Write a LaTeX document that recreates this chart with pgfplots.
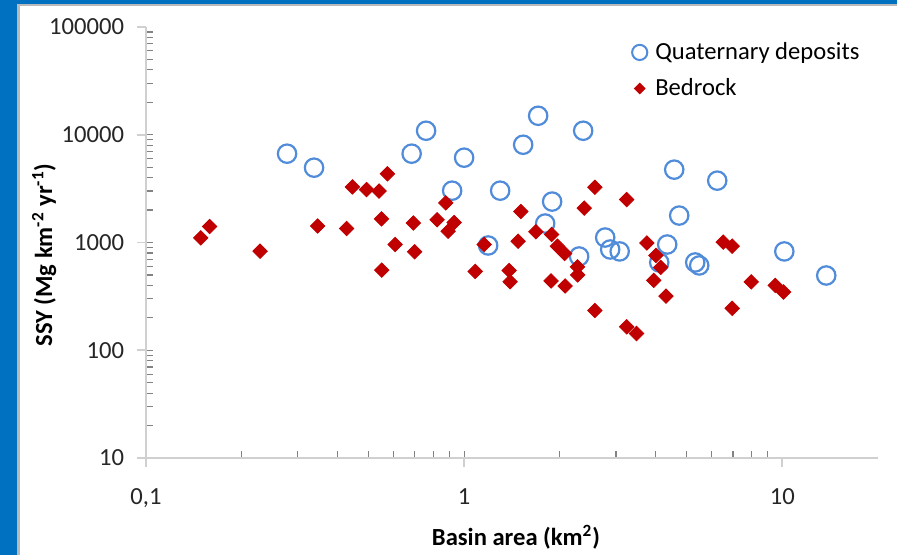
\documentclass[border=0pt]{standalone}
\usepackage{fontspec}
\setmainfont{Carlito}
\usepackage{pgfplots}
\usepackage{pgfplotstable}
\pgfplotsset{compat=1.18}
\definecolor{qblue}{RGB}{80,140,218}
\definecolor{bred}{RGB}{192,0,0}
\definecolor{frameblue}{RGB}{0,112,192}
\definecolor{axgray}{RGB}{208,208,208}
\definecolor{mtgray}{RGB}{130,130,130}

\pgfplotstableread{
x y
0.2776 6670
0.3375 4946
0.6839 6670
0.7595 10890
0.917 3027
1.0 6124
1.298 3027
1.533 8074
1.709 15000
1.891 2398
2.367 10890
1.798 1500
1.190 938
2.299 742
2.776 1112
2.878 861
3.083 826
4.575 4742
6.247 3750
4.743 1778
4.349 958
4.105 653
5.326 653
5.483 612
10.15 826
13.75 494
}\quat

\pgfplotstableread{
x y
0.1486 1105
0.1585 1406
0.2283 830
0.3462 1422
0.4270 1348
0.4455 3281
0.4936 3097
0.5404 2999
0.5739 4335
0.5502 1656
0.6067 958
0.5510 554
0.6928 1516
0.6988 820
0.8224 1623
0.8760 2331
0.9302 1531
0.8906 1272
1.083 539
1.156 958
1.385 550
1.395 433
1.478 1028
1.508 1936
1.681 1256
1.884 1186
1.965 924
2.070 791
2.272 593
2.275 500
1.877 440
2.078 395
2.576 3251
2.385 2084
3.243 2501
2.576 234
3.243 165
3.482 143
3.754 990
4.008 758
4.149 587
3.944 445
4.309 318
6.524 1006
6.961 924
7.991 431
6.961 245
9.506 400
10.09 347
}\bed

\begin{document}
\begin{tikzpicture}
\fill[white] (0,0) rectangle (448.5pt,277.5pt);
\fill[frameblue] (0,0) rectangle (8.6pt,277.5pt);
\fill[frameblue] (0,275.5pt) rectangle (448.5pt,277.5pt);
\fill[gray!55] (8.6pt,0) rectangle (9.8pt,275.5pt);
\fill[gray!55] (8.6pt,274.5pt) rectangle (448.5pt,275.5pt);
\useasboundingbox (0,0) rectangle (448.5pt,277.5pt);
\begin{axis}[
  at={(73pt,48.5pt)}, anchor=south west,
  scale only axis, width=366pt, height=215.5pt,
  xmode=log, ymode=log,
  xmin=0.1, xmax=20, ymin=10, ymax=100000,
  axis x line*=bottom, axis y line*=left,
  axis line style={draw=axgray, line width=0.8pt},
  tick align=outside,
  major tick length=4.5pt, minor tick length=-3.5pt,
  major tick style={draw=axgray, line width=0.8pt},
  minor tick style={draw=mtgray, line width=0.6pt},
  xtick={0.1,1,10}, xticklabels={{0,1},1,10},
  ytick={10,100,1000,10000,100000},
  yticklabels={10,100,1000,10000,100000},
  /pgf/number format/assume math mode=true,
  tick label style={font=\fontsize{12.3}{14}\selectfont, text=black!85},
  xticklabel style={anchor=base, yshift=-19pt},
  yticklabel style={anchor=east, xshift=-3pt},
  xlabel={\textbf{Basin area (km\textsuperscript{2})}},
  ylabel={\textbf{SSY (Mg km\textsuperscript{-2} yr\textsuperscript{-1})}},
  label style={font=\fontsize{12.3}{14}\selectfont},
  xlabel style={at={(axis description cs:0.5055,-0.183)}, anchor=center},
  ylabel style={at={(axis description cs:-0.139,0.471)}, anchor=center, rotate=0},
  clip=false,
  legend image code/.code={\draw[#1] plot coordinates {(0pt,0pt)};},
  legend cell align=left,
  legend style={at={(rel axis cs:0.6772,0.9443)}, anchor=north west,
    xshift=-5pt, yshift=6.5pt,
    draw=none, fill=none, inner sep=0pt, row sep=4pt, column sep=2pt,
    font=\fontsize{12.3}{14}\selectfont,
    nodes={inner sep=2pt}},
]
\addlegendimage{only marks, mark=o, mark size=3.8pt, mark options={draw=qblue, line width=1pt}}
\addlegendentry{Quaternary deposits}
\addlegendimage{only marks, mark=square*, mark size=1.9pt, mark options={rotate=45, draw=bred, fill=bred}}
\addlegendentry{Bedrock}
\addplot[forget plot, only marks, mark=o, mark size=4.6pt, mark options={draw=qblue, line width=1.1pt}] table {\quat};
\addplot[forget plot, only marks, mark=square*, mark size=2.55pt, mark options={rotate=45, draw=bred, fill=bred}] table {\bed};
\end{axis}
\end{tikzpicture}
\end{document}
